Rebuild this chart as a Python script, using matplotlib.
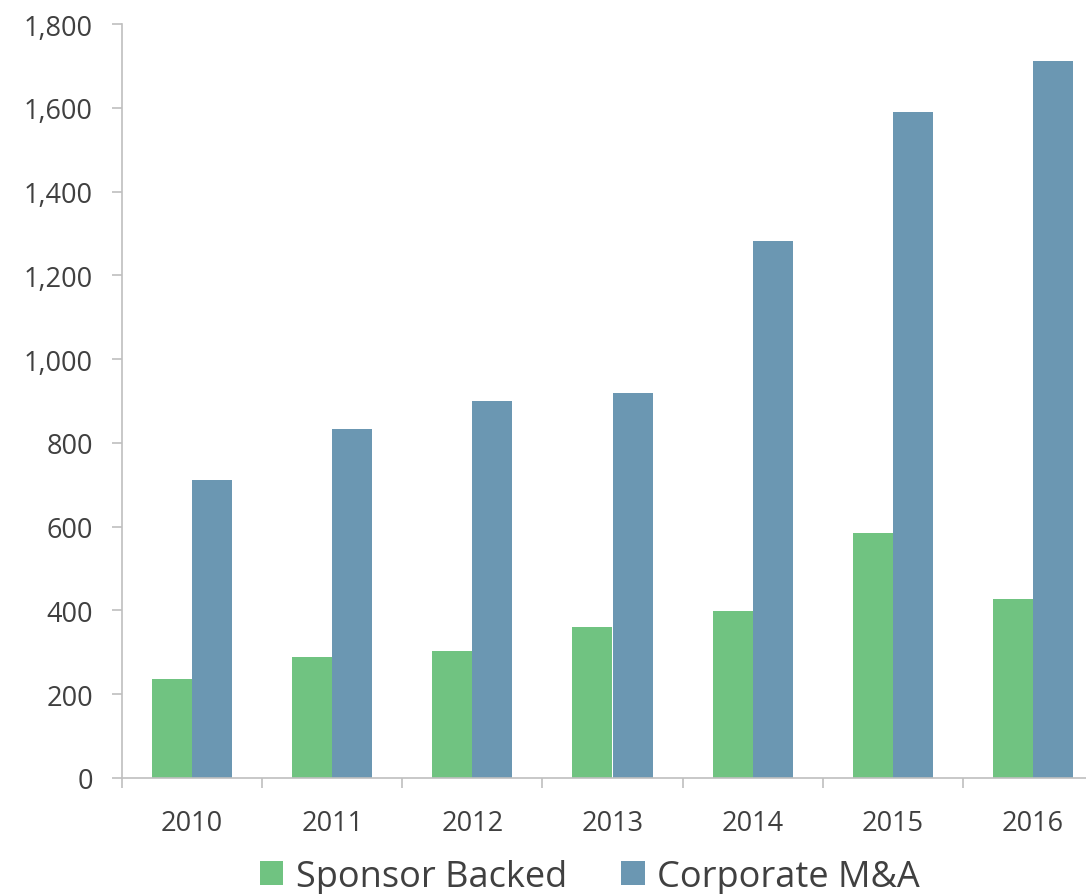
import numpy as np
import matplotlib.pyplot as plt
from matplotlib.ticker import FuncFormatter, FixedLocator

plt.rcParams['font.family'] = ['Open Sans', 'DejaVu Sans']

# values
years = ['2010', '2011', '2012', '2013', '2014', '2015', '2016']
sponsor_backed = [237, 289, 303, 360, 399, 585, 428]
corporate_ma = [712, 833, 900, 918, 1281, 1591, 1712]

GREEN = '#70C381'
BLUE = '#6B97B2'
TEXT = '#404040'
AXIS = '#BFBFBF'

fig = plt.figure(figsize=(10.86, 8.95), dpi=100)
ax = fig.add_axes([122 / 1086, 1 - 779 / 895, (1103 - 122) / 1086, (779 - 25) / 895])

x = np.arange(len(years))
w = 0.2857
ax.bar(x - w / 2, sponsor_backed, width=w, color=GREEN, label='Sponsor Backed')
ax.bar(x + w / 2, corporate_ma, width=w, color=BLUE, label='Corporate M&A')

ax.set_xlim(-0.5, len(years) - 0.5)
ax.set_ylim(0, 1800)
ax.set_yticks(np.arange(0, 1801, 200))
ax.yaxis.set_major_formatter(FuncFormatter(lambda v, p: f'{int(v):,}'))

ax.set_xticks(x)
ax.set_xticklabels(years)
ax.xaxis.set_minor_locator(FixedLocator(np.arange(-0.5, len(years), 1.0)))

for s in ['top', 'right']:
    ax.spines[s].set_visible(False)
for s in ['left', 'bottom']:
    ax.spines[s].set_color(AXIS)
    ax.spines[s].set_linewidth(1.2)

ax.tick_params(axis='y', length=7, width=1.2, color=AXIS, labelsize=19.5,
               labelcolor=TEXT, pad=14)
ax.tick_params(axis='x', which='major', length=0, labelsize=19.5,
               labelcolor=TEXT, pad=22)
ax.tick_params(axis='x', which='minor', length=7, width=1.2, color=AXIS)

fig.legend(loc='center', bbox_to_anchor=(590 / 1086, 1 - 878 / 895), ncol=2,
           frameon=False, fontsize=26, labelcolor=TEXT, handlelength=0.65,
           handleheight=0.65, handletextpad=0.35, columnspacing=1.5)

fig.savefig('out.png', dpi=100)
